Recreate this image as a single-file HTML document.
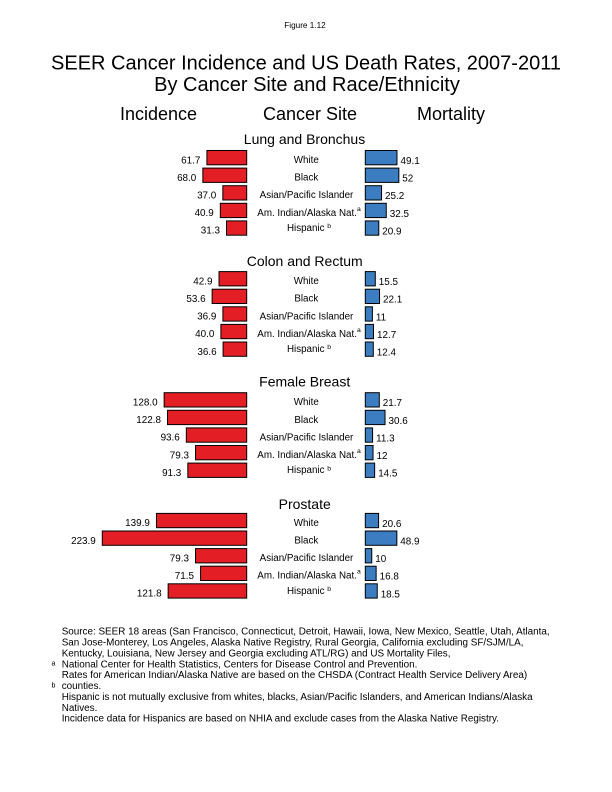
<!DOCTYPE html>
<html>
<head>
<meta charset="utf-8">
<style>
html,body{margin:0;padding:0;background:#fff;}
svg{display:block;}
text{font-family:"Liberation Sans",Arial,sans-serif;fill:#000;}
.v{font-size:9.9px;}
.c{font-size:9.8px;}
.g{font-size:14px;}
.h{font-size:18px;}
.t{font-size:20px;}
.f{font-size:9.9px;}
.r{fill:#e31e24;stroke:#000;stroke-width:1;}
.b{fill:#3b7dc0;stroke:#000;stroke-width:1;}
</style>
</head>
<body>
<svg width="612" height="792" viewBox="0 0 612 792" xmlns="http://www.w3.org/2000/svg">
<rect width="612" height="792" fill="#fff"/>
<text x="305" y="28" font-size="8.2" text-anchor="middle">Figure 1.12</text>
<text class="t" x="306" y="69.5" text-anchor="middle">SEER Cancer Incidence and US Death Rates, 2007-2011</text>
<text class="t" x="307" y="91" text-anchor="middle">By Cancer Site and Race/Ethnicity</text>
<text class="h" x="158.5" y="120" text-anchor="middle">Incidence</text>
<text class="h" x="310" y="120" text-anchor="middle">Cancer Site</text>
<text class="h" x="451" y="120" text-anchor="middle">Mortality</text>

<!-- Lung and Bronchus -->
<text class="g" x="304.5" y="144" text-anchor="middle">Lung and Bronchus</text>
<rect class="r" x="206.9" y="150.5" width="39.8" height="14.3"/>
<rect class="r" x="202.84" y="168.1" width="43.86" height="14.3"/>
<rect class="r" x="222.83" y="185.7" width="23.87" height="14.3"/>
<rect class="r" x="220.32" y="203.3" width="26.38" height="14.3"/>
<rect class="r" x="226.51" y="220.9" width="20.19" height="14.3"/>
<text class="v" x="200.4" y="163.3" text-anchor="end">61.7</text>
<text class="v" x="196.3" y="180.9" text-anchor="end">68.0</text>
<text class="v" x="216.3" y="198.5" text-anchor="end">37.0</text>
<text class="v" x="213.8" y="216.1" text-anchor="end">40.9</text>
<text class="v" x="220.0" y="233.7" text-anchor="end">31.3</text>
<rect class="b" x="365.3" y="150.5" width="31.67" height="14.3"/>
<rect class="b" x="365.3" y="168.1" width="33.54" height="14.3"/>
<rect class="b" x="365.3" y="185.7" width="16.25" height="14.3"/>
<rect class="b" x="365.3" y="203.3" width="20.96" height="14.3"/>
<rect class="b" x="365.3" y="220.9" width="13.48" height="14.3"/>
<text class="v" x="400.5" y="164">49.1</text>
<text class="v" x="402.3" y="181.6">52</text>
<text class="v" x="385.0" y="199.2">25.2</text>
<text class="v" x="389.8" y="216.8">32.5</text>
<text class="v" x="382.3" y="234.4">20.9</text>
<text class="c" x="306.3" y="163" text-anchor="middle">White</text>
<text class="c" x="306.3" y="180.6" text-anchor="middle">Black</text>
<text class="c" x="306.5" y="198.2" text-anchor="middle">Asian/Pacific Islander</text>
<text class="c" x="309" y="215.8" text-anchor="middle">Am. Indian/Alaska Nat.<tspan font-size="6.8" dy="-5">a</tspan></text>
<text class="c" x="309" y="230.9" text-anchor="middle">Hispanic <tspan font-size="6.8" dy="-2.8">b</tspan></text>

<!-- Colon and Rectum -->
<text class="g" x="304.7" y="266" text-anchor="middle">Colon and Rectum</text>
<rect class="r" x="219.03" y="271.6" width="27.67" height="14.3"/>
<rect class="r" x="212.13" y="289.2" width="34.57" height="14.3"/>
<rect class="r" x="222.9" y="306.8" width="23.8" height="14.3"/>
<rect class="r" x="220.9" y="324.4" width="25.8" height="14.3"/>
<rect class="r" x="223.09" y="342.0" width="23.61" height="14.3"/>
<text class="v" x="212.5" y="284.4" text-anchor="end">42.9</text>
<text class="v" x="205.6" y="302" text-anchor="end">53.6</text>
<text class="v" x="216.4" y="319.6" text-anchor="end">36.9</text>
<text class="v" x="214.4" y="337.2" text-anchor="end">40.0</text>
<text class="v" x="216.6" y="354.8" text-anchor="end">36.6</text>
<rect class="b" x="365.3" y="271.6" width="10.0" height="14.3"/>
<rect class="b" x="365.3" y="289.2" width="14.25" height="14.3"/>
<rect class="b" x="365.3" y="306.8" width="7.1" height="14.3"/>
<rect class="b" x="365.3" y="324.4" width="8.19" height="14.3"/>
<rect class="b" x="365.3" y="342.0" width="8.0" height="14.3"/>
<text class="v" x="378.8" y="285.1">15.5</text>
<text class="v" x="383.0" y="302.7">22.1</text>
<text class="v" x="375.9" y="320.3">11</text>
<text class="v" x="377.0" y="337.9">12.7</text>
<text class="v" x="376.8" y="355.5">12.4</text>
<text class="c" x="306.3" y="284.1" text-anchor="middle">White</text>
<text class="c" x="306.3" y="301.7" text-anchor="middle">Black</text>
<text class="c" x="306.5" y="319.3" text-anchor="middle">Asian/Pacific Islander</text>
<text class="c" x="309" y="336.9" text-anchor="middle">Am. Indian/Alaska Nat.<tspan font-size="6.8" dy="-5">a</tspan></text>
<text class="c" x="309" y="352" text-anchor="middle">Hispanic <tspan font-size="6.8" dy="-2.8">b</tspan></text>

<!-- Female Breast -->
<text class="g" x="304.7" y="386.3" text-anchor="middle">Female Breast</text>
<rect class="r" x="164.14" y="392.7" width="82.56" height="14.3"/>
<rect class="r" x="167.49" y="410.3" width="79.21" height="14.3"/>
<rect class="r" x="186.33" y="427.9" width="60.37" height="14.3"/>
<rect class="r" x="195.55" y="445.5" width="51.15" height="14.3"/>
<rect class="r" x="187.81" y="463.1" width="58.89" height="14.3"/>
<text class="v" x="157.6" y="405.5" text-anchor="end">128.0</text>
<text class="v" x="161.0" y="423.1" text-anchor="end">122.8</text>
<text class="v" x="179.8" y="440.7" text-anchor="end">93.6</text>
<text class="v" x="189.0" y="458.3" text-anchor="end">79.3</text>
<text class="v" x="181.3" y="475.9" text-anchor="end">91.3</text>
<rect class="b" x="365.3" y="392.7" width="14.0" height="14.3"/>
<rect class="b" x="365.3" y="410.3" width="19.74" height="14.3"/>
<rect class="b" x="365.3" y="427.9" width="7.29" height="14.3"/>
<rect class="b" x="365.3" y="445.5" width="7.74" height="14.3"/>
<rect class="b" x="365.3" y="463.1" width="9.35" height="14.3"/>
<text class="v" x="382.8" y="406.2">21.7</text>
<text class="v" x="388.5" y="423.8">30.6</text>
<text class="v" x="376.1" y="441.4">11.3</text>
<text class="v" x="376.5" y="459">12</text>
<text class="v" x="378.2" y="476.6">14.5</text>
<text class="c" x="306.3" y="405.2" text-anchor="middle">White</text>
<text class="c" x="306.3" y="422.8" text-anchor="middle">Black</text>
<text class="c" x="306.5" y="440.4" text-anchor="middle">Asian/Pacific Islander</text>
<text class="c" x="309" y="458" text-anchor="middle">Am. Indian/Alaska Nat.<tspan font-size="6.8" dy="-5">a</tspan></text>
<text class="c" x="309" y="473.1" text-anchor="middle">Hispanic <tspan font-size="6.8" dy="-2.8">b</tspan></text>

<!-- Prostate -->
<text class="g" x="304.7" y="509" text-anchor="middle">Prostate</text>
<rect class="r" x="156.46" y="513.4" width="90.24" height="14.3"/>
<rect class="r" x="102.28" y="531.0" width="144.42" height="14.3"/>
<rect class="r" x="195.55" y="548.6" width="51.15" height="14.3"/>
<rect class="r" x="200.58" y="566.2" width="46.12" height="14.3"/>
<rect class="r" x="168.14" y="583.8" width="78.56" height="14.3"/>
<text class="v" x="149.9" y="526.2" text-anchor="end">139.9</text>
<text class="v" x="95.8" y="543.8" text-anchor="end">223.9</text>
<text class="v" x="189.0" y="561.4" text-anchor="end">79.3</text>
<text class="v" x="194.0" y="579" text-anchor="end">71.5</text>
<text class="v" x="161.6" y="596.6" text-anchor="end">121.8</text>
<rect class="b" x="365.3" y="513.4" width="13.29" height="14.3"/>
<rect class="b" x="365.3" y="531.0" width="31.54" height="14.3"/>
<rect class="b" x="365.3" y="548.6" width="6.45" height="14.3"/>
<rect class="b" x="365.3" y="566.2" width="10.84" height="14.3"/>
<rect class="b" x="365.3" y="583.8" width="11.93" height="14.3"/>
<text class="v" x="382.1" y="526.9">20.6</text>
<text class="v" x="400.3" y="544.5">48.9</text>
<text class="v" x="375.3" y="562.1">10</text>
<text class="v" x="379.6" y="579.7">16.8</text>
<text class="v" x="380.7" y="597.3">18.5</text>
<text class="c" x="306.3" y="525.9" text-anchor="middle">White</text>
<text class="c" x="306.3" y="543.5" text-anchor="middle">Black</text>
<text class="c" x="306.5" y="561.1" text-anchor="middle">Asian/Pacific Islander</text>
<text class="c" x="309" y="578.7" text-anchor="middle">Am. Indian/Alaska Nat.<tspan font-size="6.8" dy="-5">a</tspan></text>
<text class="c" x="309" y="593.8" text-anchor="middle">Hispanic <tspan font-size="6.8" dy="-2.8">b</tspan></text>

<!-- Footnotes -->
<text class="f" x="61.7" y="634.7">Source: SEER 18 areas (San Francisco, Connecticut, Detroit, Hawaii, Iowa, New Mexico, Seattle, Utah, Atlanta,</text>
<text class="f" x="61.7" y="645.6">San Jose-Monterey, Los Angeles, Alaska Native Registry, Rural Georgia, California excluding SF/SJM/LA,</text>
<text class="f" x="61.7" y="656.4">Kentucky, Louisiana, New Jersey and Georgia excluding ATL/RG) and US Mortality Files,</text>
<text class="f" x="61.7" y="667.3">National Center for Health Statistics, Centers for Disease Control and Prevention.</text>
<text class="f" x="61.7" y="678.2">Rates for American Indian/Alaska Native are based on the CHSDA (Contract Health Service Delivery Area)</text>
<text class="f" x="61.7" y="689.0">counties.</text>
<text class="f" x="61.7" y="699.9">Hispanic is not mutually exclusive from whites, blacks, Asian/Pacific Islanders, and American Indians/Alaska</text>
<text class="f" x="61.7" y="710.8">Natives.</text>
<text class="f" x="61.7" y="721.6">Incidence data for Hispanics are based on NHIA and exclude cases from the Alaska Native Registry.</text>
<text x="51.5" y="665.5" font-size="7">a</text>
<text x="51.5" y="687.5" font-size="7">b</text>
</svg>
</body>
</html>
